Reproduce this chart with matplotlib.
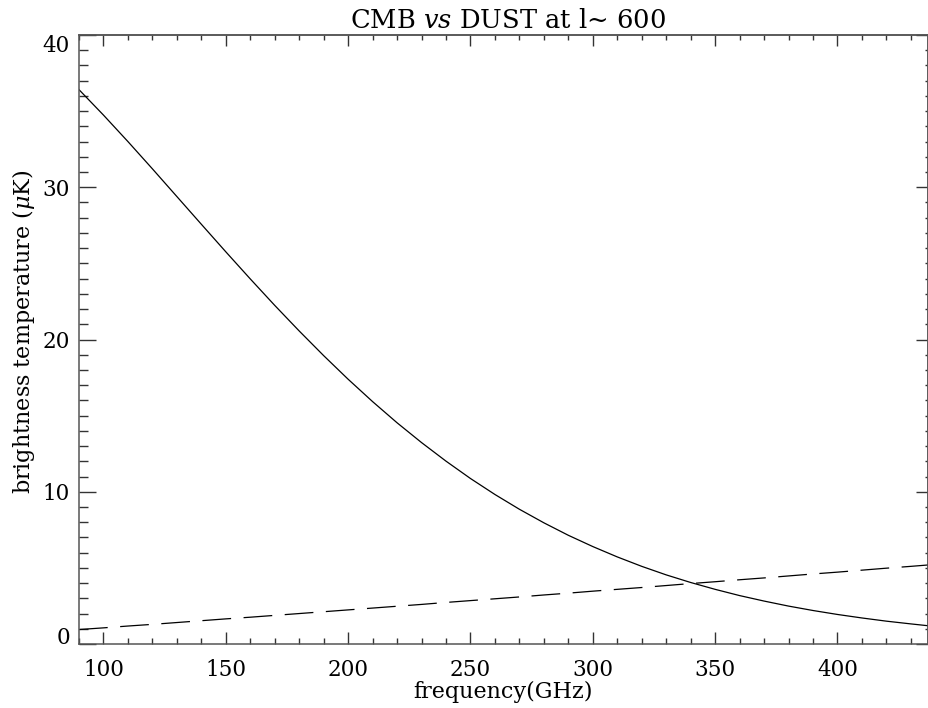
import numpy as np
import matplotlib
matplotlib.use("Agg")
import matplotlib.pyplot as plt
from matplotlib.ticker import MultipleLocator

plt.rcParams['font.family'] = ['DejaVu Serif']
plt.rcParams['mathtext.fontset'] = 'dejavuserif'

# frequency (GHz)
freq = [90, 100, 110, 120, 130, 140, 150, 160, 170, 180, 190, 200, 210, 220,
        230, 240, 250, 260, 270, 280, 290, 300, 310, 320, 330, 340, 350, 360,
        370, 380, 390, 400, 410, 420, 430, 437]
# CMB brightness temperature (uK), solid line
cmb = [36.41, 34.74, 33.00, 31.21, 29.39, 27.57, 25.76, 23.98, 22.24, 20.56,
       18.94, 17.39, 15.92, 14.53, 13.23, 12.01, 10.87, 9.82, 8.85, 7.96,
       7.14, 6.40, 5.72, 5.10, 4.54, 4.04, 3.59, 3.18, 2.82, 2.49, 2.20,
       1.94, 1.71, 1.50, 1.32, 1.20]
# dust brightness temperature (uK), dashed line
dust = [0.95, 1.06, 1.18, 1.29, 1.41, 1.53, 1.65, 1.76, 1.88, 2.00, 2.12, 2.24,
        2.36, 2.48, 2.60, 2.73, 2.85, 2.97, 3.09, 3.22, 3.34, 3.47, 3.59, 3.71,
        3.84, 3.97, 4.09, 4.22, 4.34, 4.47, 4.60, 4.72, 4.85, 4.98, 5.10, 5.19]

xticks = [100, 150, 200, 250, 300, 350, 400]
yticks = [0, 10, 20, 30, 40]

PX = 0.72  # points per pixel at dpi 100

fig = plt.figure(figsize=(9.29, 7.08), dpi=100)
ax = fig.add_axes([79/929, 64/708, 849/929, 609/708])

ax.plot(freq, cmb, color='black', lw=0.9)
ax.plot(freq, dust, color='black', lw=0.9, ls=(0, (23, 10)))

ax.set_xlim(90, 437)
ax.set_ylim(0, 40)

spine_col = '#555555'
tick_col = '#333333'
for s in ax.spines.values():
    s.set_color(spine_col)
    s.set_linewidth(1.1)

ax.set_xticks(xticks)
ax.set_yticks(yticks)
ax.xaxis.set_minor_locator(MultipleLocator(10))
ax.yaxis.set_minor_locator(MultipleLocator(1))

ax.tick_params(axis='x', which='major', direction='in', length=12*PX, width=1,
               color=tick_col, top=False, labelsize=15.5, pad=15*PX)
ax.tick_params(axis='x', which='minor', direction='in', length=6*PX, width=1,
               color=tick_col, top=False)
ax.tick_params(axis='y', which='major', direction='in', length=17*PX, width=1,
               color=tick_col, right=False, labelsize=15.5, pad=9*PX)
ax.tick_params(axis='y', which='minor', direction='in', length=9*PX, width=1,
               color=tick_col, right=False)

secx = ax.secondary_xaxis('top')
secx.set_xticks(xticks)
secx.xaxis.set_minor_locator(MultipleLocator(10))
secx.tick_params(which='major', direction='in', length=11*PX, width=1,
                 color=tick_col, labeltop=False)
secx.tick_params(which='minor', direction='in', length=5*PX, width=1,
                 color=tick_col)
secx.spines['top'].set_color(spine_col)
secx.spines['top'].set_linewidth(1.1)

secy = ax.secondary_yaxis('right')
secy.set_yticks(yticks)
secy.yaxis.set_minor_locator(MultipleLocator(1))
secy.tick_params(which='major', direction='in', length=12*PX, width=1,
                 color=tick_col, labelright=False)
secy.tick_params(which='minor', direction='in', length=3.3*PX, width=1,
                 color=tick_col)
secy.spines['right'].set_color(spine_col)
secy.spines['right'].set_linewidth(1.1)

labs = ax.get_yticklabels()
labs[0].set_verticalalignment('baseline')
labs[-1].set_verticalalignment('top')

ax.set_xlabel('frequency(GHz)', fontsize=16, labelpad=0)
ax.set_ylabel(r'brightness temperature ($\mu$K)', fontsize=16)
ax.yaxis.set_label_coords(-0.049, 0.512)
ax.set_title(r'CMB $\it{vs}$ DUST at l~ 600', fontsize=18.5, pad=5, x=0.505)

fig.savefig('out.png', dpi=100)
